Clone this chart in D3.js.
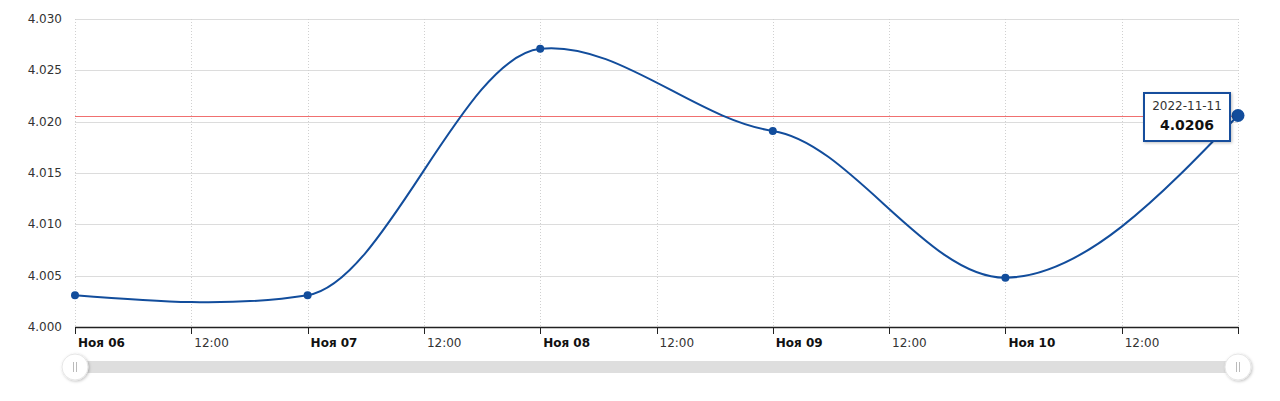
<!DOCTYPE html>
<html><head><meta charset="utf-8">
<script src="https://cdn.jsdelivr.net/npm/d3@7/dist/d3.min.js"></script>
<style>body{margin:0;background:#fff;}svg{display:block;font-family:"DejaVu Sans",Verdana,sans-serif;}</style>
</head><body><svg id="c" width="1280" height="401"></svg>
<script>
const dates = ["2022-11-06","2022-11-07","2022-11-08","2022-11-09","2022-11-10","2022-11-11"];
const values = [4.0031, 4.0031, 4.0271, 4.0191, 4.0048, 4.0206];
const yTicks = [4.000, 4.005, 4.010, 4.015, 4.020, 4.025, 4.030];
const months = ["Янв","Фев","Мар","Апр","Май","Июн","Июл","Авг","Сен","Окт","Ноя","Дек"];
const refValue = 4.0206;

const parse = d3.utcParse("%Y-%m-%d");
const data = dates.map((d,i)=>({t:parse(d), v:values[i], s:d}));
const svg = d3.select("#c");
const L=75, R=1238, T=19, B=327;
const x = d3.scaleUtc().domain([data[0].t, data[data.length-1].t]).range([L,R]);
const y = d3.scaleLinear().domain([4.000,4.030]).range([B,T]);

const defs = svg.append("defs");
const f = defs.append("filter").attr("id","sh").attr("x","-50%").attr("y","-50%").attr("width","200%").attr("height","200%");
f.append("feDropShadow").attr("dx",1).attr("dy",1).attr("stdDeviation",1.5).attr("flood-color","#000").attr("flood-opacity",0.25);

// horizontal grid
svg.append("g").selectAll("line").data(yTicks).join("line")
  .attr("x1",L).attr("x2",R).attr("y1",d=>Math.round(y(d))+0.5).attr("y2",d=>Math.round(y(d))+0.5)
  .attr("stroke","#dcdcdc").attr("stroke-width",1);

const xTicks = d3.utcHour.every(12).range(data[0].t, d3.utcHour.offset(data[data.length-1].t,1));
// vertical dotted grid
svg.append("g").selectAll("line").data(xTicks).join("line")
  .attr("x1",d=>Math.round(x(d))+0.5).attr("x2",d=>Math.round(x(d))+0.5).attr("y1",T).attr("y2",B)
  .attr("stroke","#d0d0d0").attr("stroke-dasharray","1,2");

// y labels
svg.append("g").selectAll("text").data(yTicks).join("text")
  .attr("x",62).attr("y",d=>y(d)+4).attr("text-anchor","end")
  .attr("font-size",12).attr("fill","#333").text(d=>d3.format(".3f")(d));

// reference line
svg.append("line").attr("x1",L).attr("x2",R).attr("y1",Math.round(y(refValue))+0.5).attr("y2",Math.round(y(refValue))+0.5)
  .attr("stroke","#f07070").attr("stroke-width",1);

// x axis
const xa = svg.append("g").attr("transform",`translate(0,${B})`);
xa.append("line").attr("x1",L).attr("x2",R+0.5).attr("y1",0.5).attr("y2",0.5).attr("stroke","#222").attr("stroke-width",1.5);
xa.selectAll("line.tk").data(xTicks).join("line").attr("class","tk")
  .attr("x1",d=>Math.round(x(d))+0.5).attr("x2",d=>Math.round(x(d))+0.5).attr("y1",0).attr("y2",7)
  .attr("stroke","#222").attr("stroke-width",1);
xa.selectAll("text").data(xTicks.filter(d=>+d<+data[data.length-1].t)).join("text")
  .attr("x",d=>x(d)+3).attr("y",20).attr("font-size",12)
  .attr("font-weight",d=>d.getUTCHours()===0?"bold":"normal")
  .attr("fill",d=>d.getUTCHours()===0?"#111":"#333")
  .text(d=>d.getUTCHours()===0 ? months[d.getUTCMonth()]+" "+d3.utcFormat("%d")(d) : d3.utcFormat("%H:%M")(d));

// smooth spline (Hermite, damped tangents, natural ends) through scaled points
function splinePath(pts, k){
  const P=pts.map(d=>({x:x(d.t), y:y(d.v)})), n=P.length, m=new Array(n).fill(0);
  for(let i=1;i<n-1;i++) m[i]=k*(P[i+1].y-P[i-1].y)/(P[i+1].x-P[i-1].x);
  const s0=(P[1].y-P[0].y)/(P[1].x-P[0].x), sn=(P[n-1].y-P[n-2].y)/(P[n-1].x-P[n-2].x);
  m[0]=(3*s0-m[1])/2; m[n-1]=(3*sn-m[n-2])/2;
  const p=d3.path(); p.moveTo(P[0].x,P[0].y);
  for(let i=1;i<n;i++){
    const a=P[i-1], c=P[i], h=(c.x-a.x)/3;
    p.bezierCurveTo(a.x+h, a.y+m[i-1]*h, c.x-h, c.y-m[i]*h, c.x, c.y);
  }
  return p.toString();
}
svg.append("path").attr("d",splinePath(data,0.3)).attr("fill","none").attr("stroke","#124d9c").attr("stroke-width",2);

// tooltip connector
const last = data[data.length-1];
svg.append("path").attr("d",`M1229,110 L${x(last.t)},${y(last.v)}`).attr("stroke","#fff").attr("stroke-width",2).attr("opacity",0.75);

svg.append("g").selectAll("circle").data(data).join("circle")
  .attr("cx",d=>x(d.t)).attr("cy",d=>y(d.v)).attr("r",(d,i)=>i===data.length-1?6.5:4)
  .attr("fill","#124d9c");

// tooltip
const tg = svg.append("g").attr("transform","translate(1144,93)");
tg.append("rect").attr("width",86).attr("height",48).attr("fill","#fff").attr("stroke","#124d9c").attr("stroke-width",2).attr("filter","url(#sh)");
tg.append("text").attr("x",43).attr("y",17).attr("text-anchor","middle").attr("font-size",12).attr("fill","#333").text(last.s);
tg.append("text").attr("x",43).attr("y",37).attr("text-anchor","middle").attr("font-size",14).attr("font-weight","bold").attr("fill","#111").text(d3.format(".4f")(last.v));

// navigator
svg.append("rect").attr("x",L).attr("y",361).attr("width",R-L).attr("height",12).attr("fill","#dedede");
[L,R].forEach(hx=>{
  const h = svg.append("g").attr("transform",`translate(${hx},367)`);
  h.append("circle").attr("r",13).attr("fill","#fff").attr("stroke","#e6e6e6").attr("filter","url(#sh)");
  h.append("line").attr("x1",-1.5).attr("x2",-1.5).attr("y1",-5).attr("y2",5).attr("stroke","#bbb");
  h.append("line").attr("x1",1.5).attr("x2",1.5).attr("y1",-5).attr("y2",5).attr("stroke","#bbb");
});
</script></body></html>
